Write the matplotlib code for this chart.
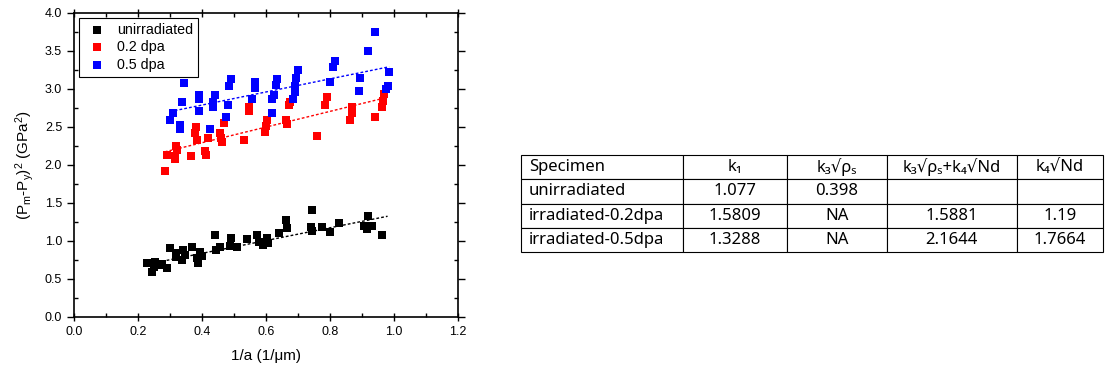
import matplotlib
matplotlib.use("Agg")
import matplotlib.pyplot as plt
import numpy as np
from matplotlib.ticker import MultipleLocator

plt.rcParams["font.family"] = ["Liberation Sans", "DejaVu Sans"]
plt.rcParams["mathtext.fontset"] = "custom"
plt.rcParams["mathtext.rm"] = "Liberation Sans"
plt.rcParams["mathtext.it"] = "Liberation Sans:italic"

# --- scatter data ---
unirr_x = [0.228, 0.244, 0.253, 0.266, 0.29, 0.25, 0.275, 0.30, 0.32, 0.32,
           0.34, 0.347, 0.337, 0.369, 0.384, 0.394, 0.387, 0.40, 0.44, 0.444,
           0.456, 0.49, 0.487, 0.51, 0.54, 0.572, 0.578, 0.59, 0.603, 0.606,
           0.64, 0.662, 0.666, 0.744, 0.74, 0.744, 0.775, 0.80, 0.828, 0.905,
           0.915, 0.92, 0.93, 0.962]
unirr_y = [0.71, 0.59, 0.72, 0.68, 0.64, 0.66, 0.70, 0.91, 0.84, 0.79,
           0.88, 0.82, 0.75, 0.92, 0.78, 0.86, 0.71, 0.80, 1.08, 0.88,
           0.92, 1.04, 0.93, 0.92, 1.03, 1.08, 0.99, 0.95, 1.04, 0.97,
           1.10, 1.28, 1.17, 1.41, 1.18, 1.13, 1.18, 1.12, 1.24, 1.20,
           1.16, 1.33, 1.19, 1.08]

dpa02_x = [0.284, 0.29, 0.316, 0.316, 0.32, 0.322, 0.366, 0.38, 0.378, 0.384,
           0.41, 0.414, 0.42, 0.47, 0.456, 0.46, 0.462, 0.53, 0.547, 0.547,
           0.603, 0.60, 0.597, 0.675, 0.672, 0.663, 0.666, 0.76, 0.79, 0.784,
           0.87, 0.868, 0.863, 0.94, 0.97, 0.966, 0.962]
dpa02_y = [1.92, 2.13, 2.11, 2.07, 2.25, 2.20, 2.12, 2.49, 2.42, 2.33,
           2.18, 2.13, 2.35, 2.55, 2.42, 2.35, 2.30, 2.32, 2.76, 2.70,
           2.59, 2.51, 2.43, 2.83, 2.79, 2.59, 2.53, 2.38, 2.89, 2.78,
           2.76, 2.68, 2.59, 2.63, 2.93, 2.84, 2.76]

dpa05_x = [0.344, 0.337, 0.31, 0.30, 0.33, 0.33, 0.39, 0.39, 0.39, 0.425,
           0.44, 0.435, 0.435, 0.48, 0.475, 0.49, 0.485, 0.565, 0.565, 0.556,
           0.634, 0.63, 0.625, 0.62, 0.619, 0.70, 0.694, 0.69, 0.69, 0.684,
           0.815, 0.81, 0.80, 0.894, 0.89, 0.94, 0.92, 0.984, 0.98, 0.975]
dpa05_y = [3.07, 2.82, 2.68, 2.59, 2.52, 2.47, 2.91, 2.87, 2.71, 2.47,
           2.92, 2.83, 2.76, 2.79, 2.63, 3.13, 3.04, 3.09, 3.01, 2.87,
           3.13, 3.05, 2.92, 2.87, 2.68, 3.25, 3.14, 3.03, 2.96, 2.87,
           3.36, 3.28, 3.09, 3.14, 2.97, 3.75, 3.50, 3.22, 3.03, 3.00]

# linear fits (slope, intercept, x start, x end)
unirr_fit = [0.84, 0.50, 0.23, 0.98]
dpa02_fit = [1.03, 1.877, 0.284, 0.98]
dpa05_fit = [0.86, 2.44, 0.30, 0.985]

# --- table data ---
col_labels = ["Specimen", "k\u2081", "k\u2083\u221a\u03c1\u209b",
              "k\u2083\u221a\u03c1\u209b+k\u2084\u221aNd", "k\u2084\u221aNd"]
row_data = [
    ["unirradiated", "1.077", "0.398", "", ""],
    ["irradiated-0.2dpa", "1.5809", "NA", "1.5881", "1.19"],
    ["irradiated-0.5dpa", "1.3288", "NA", "2.1644", "1.7664"],
]

fig = plt.figure(figsize=(11.17, 3.86), dpi=100)
ax = fig.add_axes([0.0662, 0.1788, 0.3438, 0.7888])

series = [
    (unirr_x, unirr_y, unirr_fit, "black", "unirradiated"),
    (dpa02_x, dpa02_y, dpa02_fit, "#ff0000", "0.2 dpa"),
    (dpa05_x, dpa05_y, dpa05_fit, "#0000ff", "0.5 dpa"),
]
for xs, ys, fit, col, lab in series:
    ax.scatter(xs, ys, marker="s", s=30, color=col, linewidths=0, label=lab, zorder=3)
    fx = np.array([fit[2], fit[3]])
    ax.plot(fx, fit[0] * fx + fit[1], linestyle=(0, (2, 1.5)), color=col, lw=1, zorder=2)

ax.set_xlim(0, 1.2)
ax.set_ylim(0, 4.0)
ax.xaxis.set_major_locator(MultipleLocator(0.2))
ax.xaxis.set_minor_locator(MultipleLocator(0.1))
ax.yaxis.set_major_locator(MultipleLocator(0.5))
ax.yaxis.set_minor_locator(MultipleLocator(0.25))
ax.xaxis.set_major_formatter(plt.FormatStrFormatter("%.1f"))
ax.yaxis.set_major_formatter(plt.FormatStrFormatter("%.1f"))
ax.tick_params(which="both", direction="in", top=True, right=True, labelsize=9, width=1)
ax.tick_params(axis="y", which="major", direction="out", length=5)
ax.tick_params(which="minor", length=3)
ax.tick_params(axis="x", which="major", direction="inout", length=6)
for sp in ax.spines.values():
    sp.set_linewidth(1.2)

ax.set_xlabel("1/a (1/\u03bcm)", fontsize=11, labelpad=8)
ax.set_ylabel(r"(P$_\mathrm{m}$-P$_\mathrm{y}$)$^\mathrm{2}$ (GPa$^\mathrm{2}$)",
              fontsize=11, labelpad=6)

leg = ax.legend(loc="upper left", fontsize=10.3, frameon=True, fancybox=False,
                edgecolor="black", framealpha=1, handletextpad=0.5,
                handlelength=1.8, borderpad=0.35, labelspacing=0.25,
                bbox_to_anchor=(0.0, 1.0), borderaxespad=0.35)
leg.get_frame().set_linewidth(0.8)

# --- table ---
tax = fig.add_axes([0.4664, 0.347, 0.521, 0.2513])
tax.axis("off")
widths = np.array([162, 104, 100, 130, 86], dtype=float)
tbl = tax.table(cellText=row_data, colLabels=col_labels,
                colWidths=list(widths / widths.sum()),
                bbox=[0, 0, 1, 1], cellLoc="center")
tbl.auto_set_font_size(False)
for (r, c), cell in tbl.get_celld().items():
    cell.set_edgecolor("black")
    cell.set_linewidth(0.8)
    cell.get_text().set_fontsize(12)
    cell.get_text().set_fontfamily(["Noto Sans", "DejaVu Sans"])
    if c == 0:
        cell.PAD = 0.05
        cell.set_text_props(ha="left")
        cell._loc = "left"

fig.savefig("out.png", dpi=100)
